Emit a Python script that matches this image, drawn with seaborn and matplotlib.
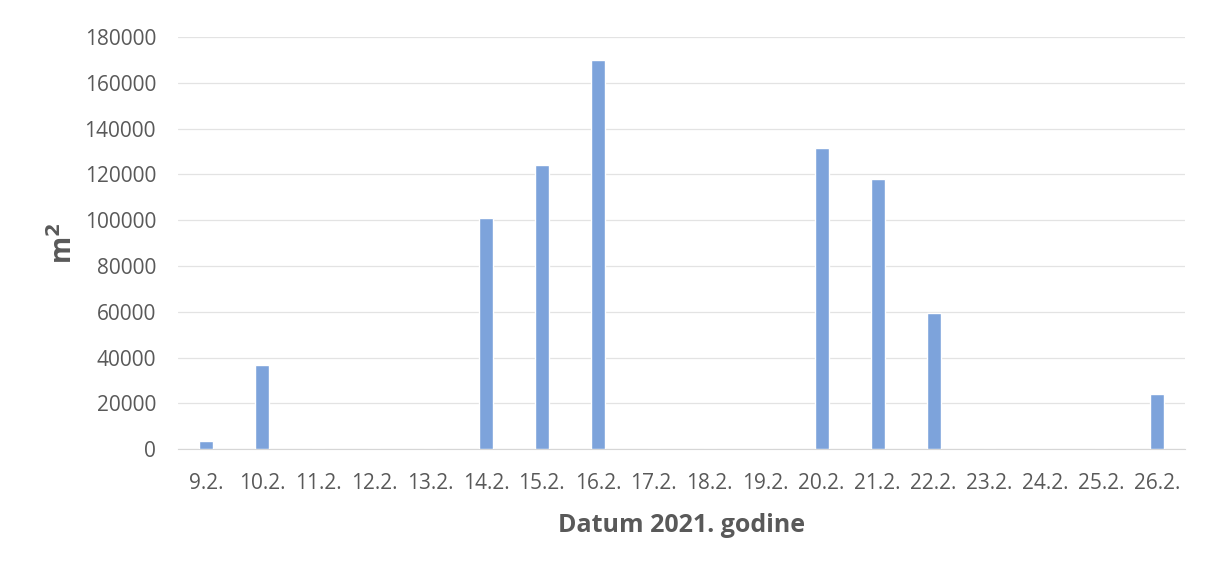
import matplotlib
matplotlib.use("Agg")
import matplotlib.pyplot as plt
import seaborn as sns
import pandas as pd

days = ["9.2.", "10.2.", "11.2.", "12.2.", "13.2.", "14.2.", "15.2.", "16.2.", "17.2.",
        "18.2.", "19.2.", "20.2.", "21.2.", "22.2.", "23.2.", "24.2.", "25.2.", "26.2."]
area = [3500, 36700, 0, 0, 0, 101000, 124200, 170100, 0,
        0, 0, 131400, 118000, 59400, 0, 0, 0, 24300]

df = pd.DataFrame({"Datum": days, "m2": area})

sns.set_style("white")
plt.rcParams["font.family"] = ["Open Sans", "DejaVu Sans"]

text_col = "#595959"
fig = plt.figure(figsize=(12.12, 5.70), dpi=100)
ax = fig.add_axes([0.147, 0.212, 0.831, 0.723])

sns.barplot(data=df, x="Datum", y="m2", color="#7DA3DB", width=0.25,
            saturation=1, ax=ax, zorder=3)

ax.set_ylim(0, 180000)
ax.set_yticks(range(0, 180001, 20000))
ax.yaxis.grid(True, color="#e3e3e3", linewidth=0.9, zorder=0)
ax.set_axisbelow(True)
for s in ["top", "right", "left"]:
    ax.spines[s].set_visible(False)
ax.spines["bottom"].set_color("#d6d6d6")
ax.tick_params(axis="both", length=0, labelsize=15, colors=text_col)
ax.tick_params(axis="y", pad=16)
ax.tick_params(axis="x", pad=17)
ax.set_xlim(-0.5, len(days) - 0.5)

ax.set_xlabel("Datum 2021. godine", fontsize=18, fontweight="bold", color=text_col, labelpad=14)
ax.set_ylabel("m$^\\mathbf{2}$", fontsize=20, fontweight="bold", color=text_col, labelpad=4)

plt.savefig("out.png", dpi=100)
plt.close()
